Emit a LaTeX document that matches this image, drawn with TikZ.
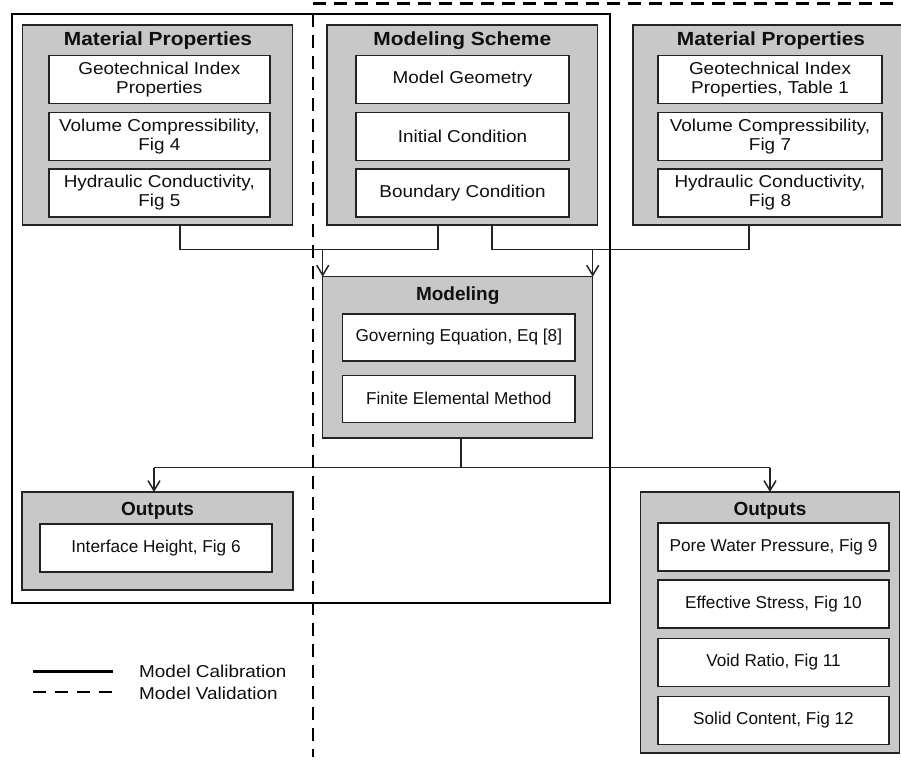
\documentclass[tikz,border=0pt]{standalone}
\usepackage{fontspec}
\setmainfont{Liberation Sans}
\newfontfamily\widefont[FakeStretch=1.1]{Liberation Sans}
\usetikzlibrary{arrows.meta}
\definecolor{boxgray}{RGB}{200,200,200}
\definecolor{linecol}{RGB}{35,35,35}
\definecolor{txtcol}{RGB}{15,15,15}
\begin{document}
\begin{tikzpicture}[x=1pt,y=-1pt,
  group/.style={draw=linecol, line width=1.5pt, fill=boxgray, inner sep=0pt, outer sep=0pt},
  item/.style={draw=linecol, line width=1.4pt, fill=white, inner sep=0pt, outer sep=0pt,
    align=center, text=txtcol, minimum height=48pt},
  wideitem/.style={item, font=\widefont\fontsize{17.2}{19}\selectfont},
  plainitem/.style={item, font=\fontsize{17.2}{19}\selectfont},
  gtitle/.style={inner sep=0pt, anchor=base, text=txtcol, font=\bfseries\fontsize{19}{22}\selectfont},
  widetitle/.style={gtitle, font=\widefont\bfseries\fontsize{19}{22}\selectfont},
  conn/.style={draw=linecol, line width=1.3pt},
  arr/.style={conn, -{Straight Barb[length=10pt,width=12pt,line width=1.5pt]}},
  solidframe/.style={draw=black, line width=2.4pt},
  dashframe/.style={draw=black, line width=2.4pt, dash pattern=on 13pt off 8pt},
  legtext/.style={inner sep=0pt, anchor=base west, text=txtcol, font=\widefont\fontsize{17.2}{19}\selectfont}
]
\useasboundingbox (0,0) rectangle (901,761);
\clip (0,0) rectangle (901,761);
\fill[white] (0,0) rectangle (901,761);

% calibration frame
\draw[solidframe] (12,14) rectangle (610,603);

% ---- Material Properties (left)
\node[group, minimum width=270pt, minimum height=200pt] (mpL) at (157.7,125) {};
\node[widetitle] (mpLt) at (158,45) {Material Properties};
\node[wideitem, minimum width=221pt] (mpL1) at (159.3,79.5) {Geotechnical Index\\Properties};
\node[wideitem, minimum width=221pt] (mpL2) at (159.3,136.5) {Volume Compressibility,\\Fig 4};
\node[wideitem, minimum width=221pt] (mpL3) at (159.3,193) {Hydraulic Conductivity,\\Fig 5};

% ---- Modeling Scheme
\node[group, minimum width=270.7pt, minimum height=200pt] (ms) at (462.3,125) {};
\node[widetitle] (mst) at (462.3,45) {Modeling Scheme};
\node[wideitem, minimum width=213pt] (ms1) at (462.5,79.5) {Model Geometry};
\node[wideitem, minimum width=213pt] (ms2) at (462.5,136.5) {Initial Condition};
\node[wideitem, minimum width=213pt] (ms3) at (462.5,193) {Boundary Condition};

% ---- Material Properties (right)
\node[group, minimum width=280pt, minimum height=200pt] (mpR) at (773,125) {};
\node[widetitle] (mpRt) at (771,45) {Material Properties};
\node[wideitem, minimum width=223.7pt] (mpR1) at (770,79.5) {Geotechnical Index\\Properties, Table 1};
\node[wideitem, minimum width=223.7pt] (mpR2) at (770,136.5) {Volume Compressibility,\\Fig 7};
\node[wideitem, minimum width=223.7pt] (mpR3) at (770,193) {Hydraulic Conductivity,\\Fig 8};

% ---- Modeling
\node[group, minimum width=270pt, minimum height=161.3pt] (mod) at (457.7,357.3) {};
\node[gtitle] (modt) at (457.7,300) {Modeling};
\node[plainitem, minimum width=232.3pt, minimum height=47pt] (mod1) at (458.8,337.5) {Governing Equation, Eq [8]};
\node[plainitem, minimum width=232.3pt, minimum height=47pt] (mod2) at (458.8,398.8) {Finite Elemental Method};

% ---- Outputs (left)
\node[group, minimum width=271pt, minimum height=98pt] (outL) at (157.5,541) {};
\node[gtitle] (outLt) at (157.5,515.5) {Outputs};
\node[plainitem, minimum width=232pt] (outL1) at (156,548) {Interface Height, Fig 6};

% ---- Outputs (right)
\node[group, minimum width=259pt, minimum height=261pt] (outR) at (770,622.5) {};
\node[gtitle] (outRt) at (770,515.5) {Outputs};
\node[plainitem, minimum width=231pt] (outR1) at (773.5,547) {Pore Water Pressure, Fig 9};
\node[plainitem, minimum width=231pt] (outR2) at (773.5,604) {Effective Stress, Fig 10};
\node[plainitem, minimum width=231pt] (outR3) at (773.5,662.5) {Void Ratio, Fig 11};
\node[plainitem, minimum width=231pt] (outR4) at (773.5,720.5) {Solid Content, Fig 12};

% ---- connectors
\coordinate (ja) at (180,249.5);
\coordinate (jb) at (438,249.5);
\coordinate (jc) at (492,249.5);
\coordinate (jd) at (749,249.5);
\coordinate (je) at (461,467.5);
\draw[conn] (mpL.south -| ja) -- (ja) -- (jb) -- (ms.south -| jb);
\draw[conn] (ms.south -| jc) -- (jc) -- (jd) -- (mpR.south -| jd);
\draw[arr] (mod.north west |- ja) -- (mod.north west);
\draw[arr] (mod.north east |- jc) -- (mod.north east);
\draw[conn] (mod.south -| je) -- (je);
\coordinate (kl) at (154,467.5);
\coordinate (kr) at (770,467.5);
\draw[conn] (kl) -- (kr);
\draw[arr] (kl) -- (outL.north -| kl);
\draw[arr] (kr) -- (outR.north -| kr);

% validation frame
\draw[dashframe] (313,3.5) -- (905,3.5);
\draw[dashframe] (313,14) -- (313,757);

% ---- legend
\coordinate (la1) at (33,671.5);
\coordinate (la2) at (113,671.5);
\coordinate (lb1) at (33,692);
\coordinate (lb2) at (113,692);
\draw[line width=2.4pt] (la1) -- (la2);
\draw[line width=2.4pt, dash pattern=on 13pt off 9pt] (lb1) -- (lb2);
\node[legtext] (legcal) at (139,677.5) {Model Calibration};
\node[legtext] (legval) at (139,699) {Model Validation};
\end{tikzpicture}
\end{document}
